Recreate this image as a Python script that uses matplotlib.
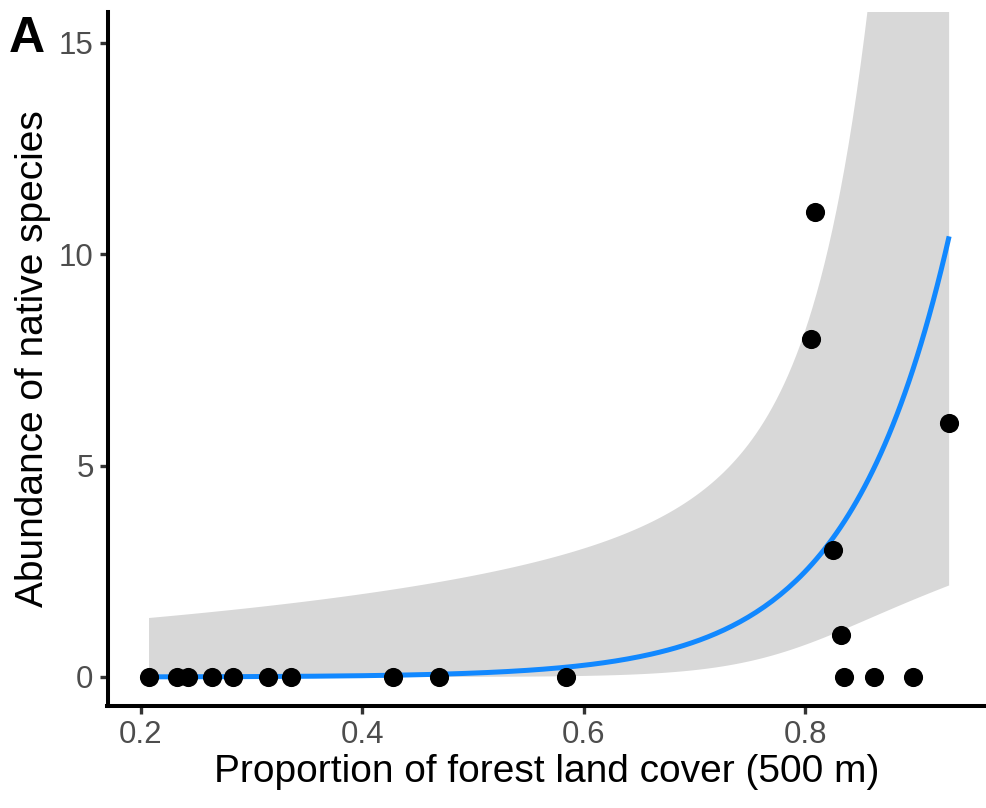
import numpy as np
import matplotlib.pyplot as plt

plt.rcParams['font.family'] = ['Liberation Sans', 'DejaVu Sans']

# forest cover proportion (500 m buffer) and native species abundance
forest_cover = [0.2075, 0.233, 0.243, 0.264, 0.2836, 0.3152, 0.3354, 0.428,
                0.469, 0.5838, 0.805, 0.8088, 0.8254, 0.8323, 0.8353, 0.8624,
                0.8976, 0.930]
abundance = [0, 0, 0, 0, 0, 0, 0, 0,
             0, 0, 8, 11, 3, 1, 0, 0,
             0, 6]

# log-link model estimates (intercept, slope) and their covariance,
# as read back from the fitted curve and its 95% band
coef = [-7.886, 11.0]
vcov = [[16.16, -19.27],
        [-19.27, 23.5]]

y_ticks = [0, 5, 10, 15]
x_ticks = [0.2, 0.4, 0.6, 0.8]

x = np.array(forest_cover)
y = np.array(abundance, dtype=float)

# prediction over the observed range, band built on the link scale
xg = np.linspace(x.min(), x.max(), 200)
Xg = np.column_stack([np.ones_like(xg), xg])
eta = Xg @ np.array(coef)
se = np.sqrt(np.sum((Xg @ np.array(vcov)) * Xg, axis=1))
fit = np.exp(eta)
lower = np.exp(eta - 1.96 * se)
upper = np.exp(eta + 1.96 * se)

fig = plt.figure(figsize=(9.86, 8.08), dpi=100)
ax = fig.add_axes([107.5 / 986, 102 / 808, (986 - 107.5) / 986, 694 / 808])

ax.fill_between(xg, lower, upper, color="#D8D8D8", lw=0, zorder=1)
ax.plot(xg, fit, color="#1188FF", lw=3.6, solid_capstyle="butt", zorder=2)
ax.scatter(x, y, s=190, color="black", lw=0, zorder=3, clip_on=False)

ax.set_xlim(0.17, 0.9633)
ax.set_ylim(-0.686, 15.73)
ax.set_xticks(x_ticks)
ax.set_xticklabels([f"{t:.1f}" for t in x_ticks])
ax.set_yticks(y_ticks)

for side in ["top", "right"]:
    ax.spines[side].set_visible(False)
for side in ["left", "bottom"]:
    ax.spines[side].set_linewidth(2.9)
    ax.spines[side].set_color("black")

ax.tick_params(axis="both", length=6, width=2.4, color="#333333",
               labelcolor="#4D4D4D", labelsize=22.5, pad=4)

ax.set_xlabel("Proportion of forest land cover (500 m)", fontsize=28,
              color="black", labelpad=3)
ax.set_ylabel("Abundance of native species", fontsize=28, color="black",
              labelpad=6)

fig.text(9 / 986, 1 - 16 / 808, "A", fontsize=36, fontweight="bold",
         va="top", ha="left")

fig.savefig("out.png", dpi=100)
